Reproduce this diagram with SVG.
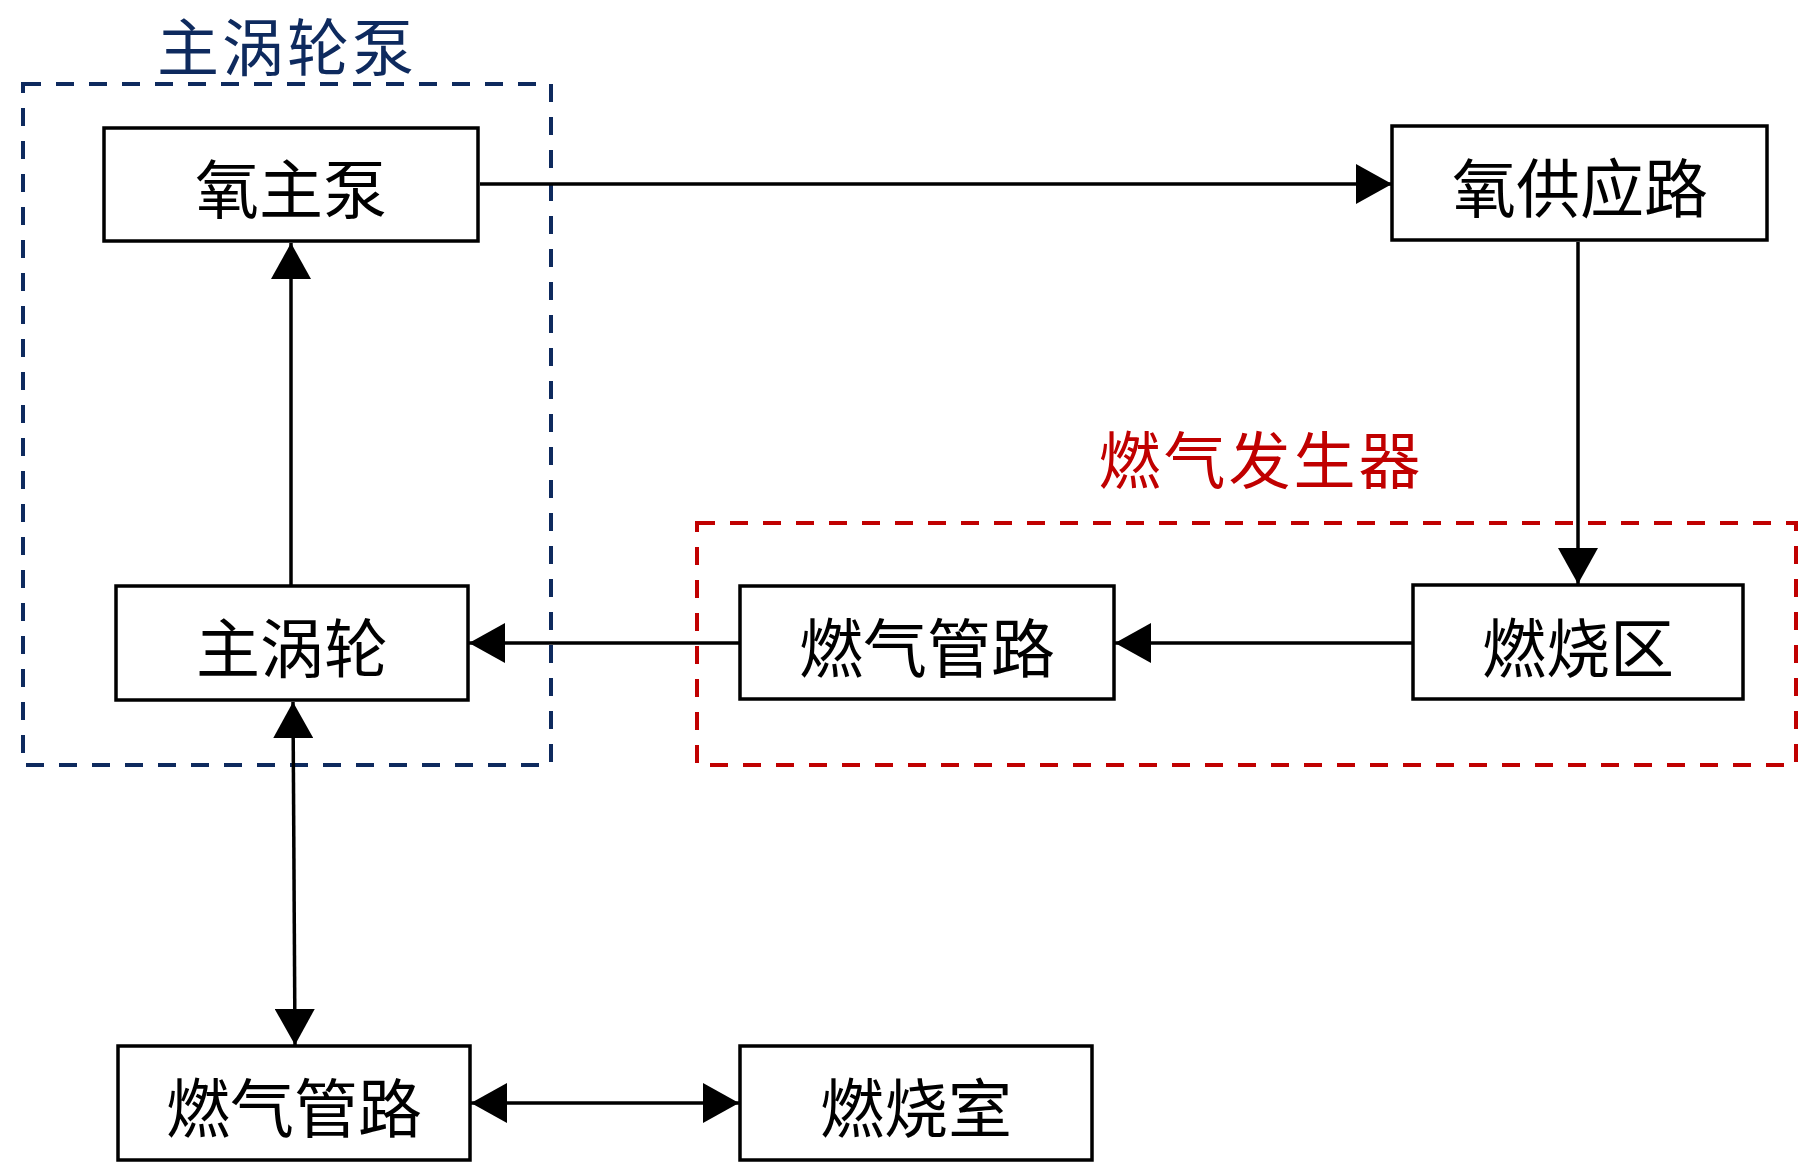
<svg xmlns="http://www.w3.org/2000/svg" width="1819" height="1162" viewBox="0 0 1819 1162">
<style>
.box{fill:#fff;stroke:#000;stroke-width:3.5}
.lbl{font-family:"Noto Sans CJK SC","Noto Sans CJK JP",sans-serif;font-size:64px;fill:#000;text-anchor:middle;dominant-baseline:central}
.title{font-family:"Noto Sans CJK SC","Noto Sans CJK JP",sans-serif;font-size:62px;letter-spacing:3px;text-anchor:middle;dominant-baseline:central}
.conn{stroke:#000;stroke-width:3.5;fill:none}
.grp{fill:none;stroke-width:4;stroke-dasharray:18 15}
</style>
<defs>
<marker id="ah" markerUnits="userSpaceOnUse" markerWidth="36" markerHeight="40" refX="36" refY="20" orient="auto-start-reverse" viewBox="0 0 36 40">
<path d="M0,0 L36,20 L0,40 z" fill="#000"/>
</marker>
</defs>
<rect width="1819" height="1162" fill="#fff"/>
<g id="group-turbopump">
<rect class="grp" x="23" y="84" width="528" height="681" stroke="#0e2a5e"/>
<text class="title" x="287" y="44" font-size="59" letter-spacing="5" fill="#0e2a5e">主涡轮泵</text>
</g>
<g id="group-gasgen">
<rect class="grp" x="697" y="523" width="1099" height="242" stroke="#c00000"/>
<text class="title" x="1261" y="457" fill="#c00000">燃气发生器</text>
</g>
<g id="connectors">
<line class="conn" x1="480" y1="184" x2="1392" y2="184" marker-end="url(#ah)"/>
<line class="conn" x1="1578" y1="242" x2="1578" y2="584" marker-end="url(#ah)"/>
<line class="conn" x1="1413" y1="643" x2="1115" y2="643" marker-end="url(#ah)"/>
<line class="conn" x1="740" y1="643" x2="469" y2="643" marker-end="url(#ah)"/>
<line class="conn" x1="291" y1="586" x2="291" y2="243" marker-end="url(#ah)"/>
<line class="conn" x1="293" y1="702" x2="295" y2="1045" marker-start="url(#ah)" marker-end="url(#ah)"/>
<line class="conn" x1="471" y1="1103" x2="739" y2="1103" marker-start="url(#ah)" marker-end="url(#ah)"/>
</g>
<g id="node-oxpump">
<rect class="box" x="104" y="128" width="374" height="113"/>
<text class="lbl" x="291" y="185">氧主泵</text>
</g>
<g id="node-oxsupply">
<rect class="box" x="1392" y="126" width="375" height="114"/>
<text class="lbl" x="1580" y="184">氧供应路</text>
</g>
<g id="node-turbine">
<rect class="box" x="116" y="586" width="352" height="114"/>
<text class="lbl" x="292" y="644">主涡轮</text>
</g>
<g id="node-gaspipe1">
<rect class="box" x="740" y="586" width="374" height="113"/>
<text class="lbl" x="927" y="644">燃气管路</text>
</g>
<g id="node-combzone">
<rect class="box" x="1413" y="585" width="330" height="114"/>
<text class="lbl" x="1578" y="644">燃烧区</text>
</g>
<g id="node-gaspipe2">
<rect class="box" x="118" y="1046" width="352" height="114"/>
<text class="lbl" x="294" y="1104">燃气管路</text>
</g>
<g id="node-combchamber">
<rect class="box" x="740" y="1046" width="352" height="114"/>
<text class="lbl" x="916" y="1104">燃烧室</text>
</g>
</svg>
